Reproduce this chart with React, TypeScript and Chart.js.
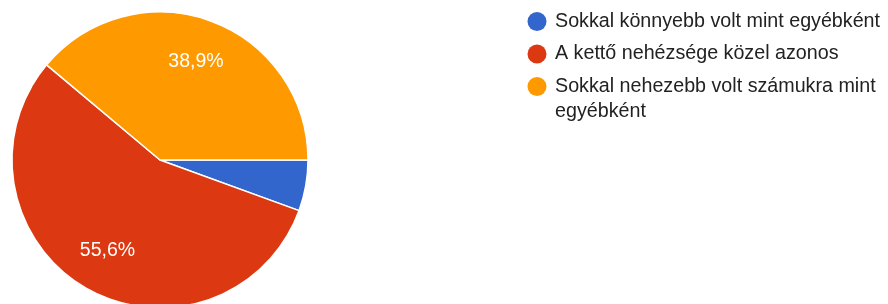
import React, { useEffect, useRef } from "react";
import { Chart, registerables } from "chart.js";

Chart.register(...registerables);

const categories: string[] = [
  "Sokkal könnyebb volt mint egyébként",
  "A kettő nehézsége közel azonos",
  "Sokkal nehezebb volt számukra mint egyébként",
];
const responses: number[] = [1, 10, 7];
const sliceColors: string[] = ["#3366CC", "#DC3912", "#FF9900"];

const FONT = "'Liberation Sans', Arial, sans-serif";

const pctLabelPlugin = {
  id: "pctLabels",
  afterDatasetsDraw(chart: any) {
    const meta = chart.getDatasetMeta(0);
    const data: number[] = chart.data.datasets[0].data;
    const total = data.reduce((a, b) => a + b, 0);
    const ctx = chart.ctx;
    ctx.save();
    ctx.fillStyle = "#ffffff";
    ctx.font = `19.5px ${FONT}`;
    ctx.textAlign = "center";
    ctx.textBaseline = "middle";
    meta.data.forEach((arc: any, i: number) => {
      const frac = data[i] / total;
      if (frac < 0.1) return;
      const p = arc.getProps(["x", "y", "startAngle", "endAngle", "outerRadius"], true);
      const mid = (p.startAngle + p.endAngle) / 2;
      const r = p.outerRadius * 0.71;
      const txt = (frac * 100).toFixed(1).replace(".", ",") + "%";
      ctx.fillText(txt, p.x + Math.cos(mid) * r, p.y + Math.sin(mid) * r);
    });
    ctx.restore();
  },
};

const legendPlugin = {
  id: "sideLegend",
  afterDraw(chart: any) {
    const ctx = chart.ctx;
    const labels: string[] = chart.data.labels;
    const colors: string[] = chart.data.datasets[0].backgroundColor;
    const textX = 555;
    const dotX = 537;
    const maxW = chart.width - textX - 2;
    let y = 21.5;
    const lineH = 25;
    const itemGap = 32.5;
    ctx.save();
    ctx.font = `19.7px ${FONT}`;
    ctx.textBaseline = "middle";
    ctx.textAlign = "left";
    labels.forEach((label, i) => {
      ctx.beginPath();
      ctx.fillStyle = colors[i];
      ctx.arc(dotX, y, 9.5, 0, Math.PI * 2);
      ctx.fill();
      const words = label.split(" ");
      const lines: string[] = [];
      let cur = "";
      words.forEach((w) => {
        const test = cur ? cur + " " + w : w;
        if (ctx.measureText(test).width > maxW && cur) {
          lines.push(cur);
          cur = w;
        } else cur = test;
      });
      if (cur) lines.push(cur);
      ctx.fillStyle = "#222222";
      lines.forEach((ln, j) => ctx.fillText(ln, textX, y + j * lineH));
      y += itemGap + (lines.length - 1) * lineH;
    });
    ctx.restore();
  },
};

export default function App() {
  const ref = useRef<HTMLCanvasElement>(null);
  useEffect(() => {
    if (!ref.current) return;
    const chart = new Chart(ref.current, {
      type: "pie",
      data: {
        labels: categories,
        datasets: [
          {
            data: responses,
            backgroundColor: sliceColors,
            borderColor: "#ffffff",
            borderWidth: 1.5,
            hoverOffset: 0,
          },
        ],
      },
      options: {
        responsive: false,
        animation: false,
        rotation: 90,
        layout: { padding: { left: 11.25, top: 11.25, right: 579.25, bottom: 11.25 } },
        plugins: {
          legend: { display: false },
          tooltip: { enabled: false },
        },
      },
      plugins: [pctLabelPlugin, legendPlugin],
    });
    return () => chart.destroy();
  }, []);
  return (
    <div
      style={{
        position: "fixed",
        left: 0,
        top: 0,
        width: 888,
        height: 304,
        overflow: "hidden",
        background: "#ffffff",
      }}
    >
      <canvas ref={ref} width={888} height={320} style={{ display: "block" }} />
    </div>
  );
}
